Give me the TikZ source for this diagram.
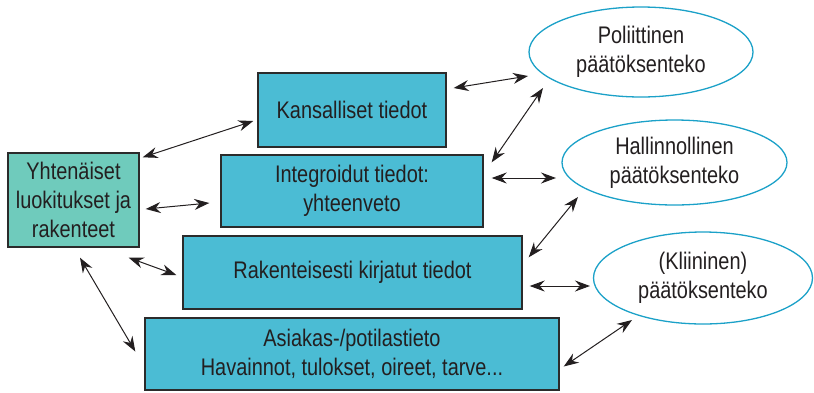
\documentclass[tikz,border=0pt]{standalone}
\usepackage{fontspec}
\setmainfont{Liberation Sans}[FakeStretch=0.83]
\usetikzlibrary{arrows.meta,shapes.geometric}
\definecolor{boxcyan}{HTML}{4BBCD4}
\definecolor{boxteal}{HTML}{6FCBBC}
\definecolor{ellblue}{HTML}{1BA1C8}
\definecolor{txt}{HTML}{231F20}
\definecolor{edge}{HTML}{2B2B2B}
\tikzset{
  lvl/.style={draw=edge, line width=1.4pt, fill=boxcyan, inner sep=0pt, align=center, text=txt},
  side/.style={draw=edge, line width=1.4pt, fill=boxteal, inner sep=0pt, align=center, text=txt},
  dec/.style={ellipse, draw=ellblue, line width=1.3pt, fill=white, inner sep=0pt, align=center, text=txt},
  dbl/.style={{Stealth[length=15pt,width=11pt,inset=5pt]}-{Stealth[length=15pt,width=11pt,inset=5pt]}, line width=1pt, draw=txt}
}
\begin{document}
\begin{tikzpicture}[x=1pt,y=-1pt,font=\fontsize{24}{29}\selectfont]
\useasboundingbox (0,0) rectangle (814,392);
% left box
\node[side, minimum width=131pt, minimum height=94pt] (L) at (73.5,200) {Yhtenäiset\\luokitukset ja\\rakenteet};
% pyramid levels
\node[lvl, minimum width=188pt, minimum height=74pt] (K) at (352,110) {Kansalliset tiedot};
\node[lvl, minimum width=262pt, minimum height=72pt] (I) at (352,191) {Integroidut tiedot:\\yhteenveto};
\node[lvl, minimum width=339pt, minimum height=73pt] (R) at (352.5,272.5) {Rakenteisesti kirjatut tiedot};
\node[lvl, minimum width=414pt, minimum height=72pt] (A) at (352,354) {Asiakas-/potilastieto\\Havainnot, tulokset, oireet, tarve...};
% decision ellipses
\node[dec, minimum width=224pt, minimum height=90pt] (P) at (641,52) {Poliittinen\\päätöksenteko};
\node[dec, minimum width=225pt, minimum height=85pt] (H) at (674.5,162.5) {Hallinnollinen\\päätöksenteko};
\node[dec, minimum width=219pt, minimum height=92pt] (C) at (703,278) {(Kliininen)\\päätöksenteko};
% connectors
\draw[dbl] ([shift={(3,5)}]L.north east) -- ([shift={(-4,11)}]K.west);
\draw[dbl] ([shift={(6,9)}]L.east) -- ([shift={(-11,12)}]I.west);
\draw[dbl] ([shift={(-11,10)}]L.south east) -- ([shift={(-6,2.5)}]R.west);
\draw[dbl] ([shift={(6.5,10)}]L.south) -- ([shift={(-9,-2.5)}]A.west);
\draw[dbl] ([shift={(7,-22)}]K.east) -- ([shift={(-113,24)}]P.center);
\draw[dbl] ([shift={(8,8)}]I.north east) -- ([shift={(-98,36)}]P.center);
\draw[dbl] ([shift={(8,-13)}]I.east) -- ([shift={(-118.5,15.5)}]H.center);
\draw[dbl] ([shift={(6,22)}]R.north east) -- ([shift={(-96.5,34.5)}]H.center);
\draw[dbl] ([shift={(7,13.5)}]R.east) -- ([shift={(-113,8)}]C.center);
\draw[dbl] ([shift={(4,12.5)}]A.east) -- ([shift={(-71,42)}]C.center);
\end{tikzpicture}
\end{document}
